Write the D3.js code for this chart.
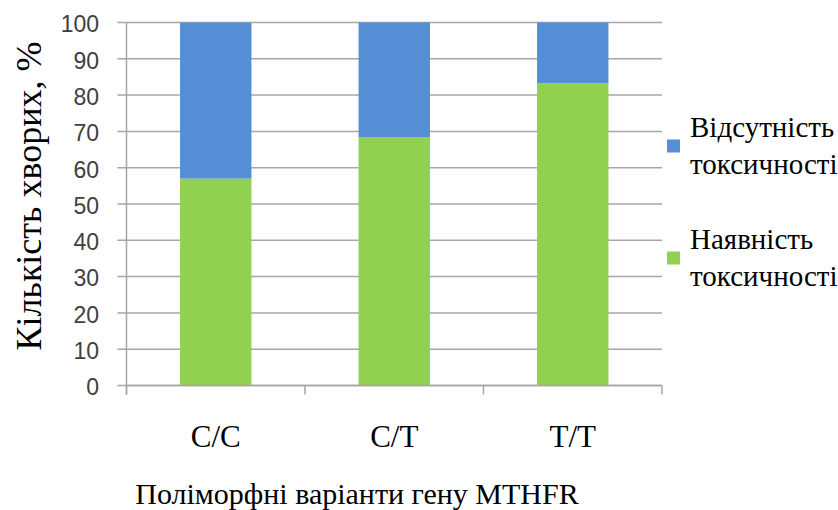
<!DOCTYPE html>
<html>
<head>
<meta charset="utf-8">
<script src="https://cdn.jsdelivr.net/npm/d3@7/dist/d3.min.js"></script>
</head>
<body style="margin:0">
<svg id="chart" width="838" height="510"></svg>
<script>
// Genotype categories and the share of patients (%) for each outcome
const genotypes = ["C/C", "C/T", "T/T"];
const toxicityPresent = [57, 68.4, 83.3];
const toxicityAbsent = [43, 31.6, 16.7];
const seriesNames = ["Наявність токсичності", "Відсутність токсичності"];
const yTicks = [0, 10, 20, 30, 40, 50, 60, 70, 80, 90, 100];
const yTitle = "Кількість хворих, %";
const xTitle = "Поліморфні варіанти гену MTHFR";

const colors = { present: "#92D050", absent: "#558ED5" };
const serif = '"Liberation Serif"';
const sans = '"Liberation Sans"';

const svg = d3.select("#chart");
const plotLeft = 126.5, plotRight = 662, plotTop = 22.5, plotBottom = 385.5;

const x = d3.scaleBand().domain(genotypes).range([plotLeft, plotRight])
  .paddingInner(0.6).paddingOuter(0.3);
const y = d3.scaleLinear().domain([0, 100]).range([plotBottom, plotTop]);

// horizontal gridlines with short ticks to the left of the axis
svg.append("g").selectAll("line").data(yTicks).join("line")
  .attr("x1", plotLeft - 9).attr("x2", plotRight)
  .attr("y1", d => y(d)).attr("y2", d => y(d))
  .attr("stroke", "#a6a6a6").attr("stroke-width", 1.5);

// y tick labels
svg.append("g").selectAll("text").data(yTicks).join("text")
  .attr("x", 99).attr("y", d => y(d))
  .attr("dy", "0.43em")
  .attr("text-anchor", "end")
  .style("font-family", sans).style("font-size", "23px")
  .attr("fill", "#404040")
  .text(d => d);

// stacked bars: toxicity present at the bottom, absent on top
const stackData = genotypes.map((g, i) => ({ g, present: toxicityPresent[i], absent: toxicityAbsent[i] }));
const stack = d3.stack().keys(["present", "absent"])(stackData);
svg.append("g").selectAll("g").data(stack).join("g")
  .attr("fill", d => colors[d.key])
  .selectAll("rect").data(d => d).join("rect")
  .attr("x", d => x(d.data.g))
  .attr("width", x.bandwidth())
  .attr("y", d => y(d[1]))
  .attr("height", d => y(d[0]) - y(d[1]));

// axes lines
svg.append("line").attr("x1", plotLeft).attr("x2", plotLeft)
  .attr("y1", plotTop).attr("y2", plotBottom + 9)
  .attr("stroke", "#a6a6a6").attr("stroke-width", 1.5);
svg.append("line").attr("x1", plotLeft).attr("x2", plotRight)
  .attr("y1", plotBottom).attr("y2", plotBottom)
  .attr("stroke", "#a6a6a6").attr("stroke-width", 1.5);

// category boundary ticks on the x axis
const boundaries = d3.range(genotypes.length + 1).map(i => plotLeft + i * x.step());
svg.append("g").selectAll("line").data(boundaries).join("line")
  .attr("x1", d => d).attr("x2", d => d)
  .attr("y1", plotBottom).attr("y2", plotBottom + 9)
  .attr("stroke", "#a6a6a6").attr("stroke-width", 1.5);

// category labels
svg.append("g").selectAll("text").data(genotypes).join("text")
  .attr("x", d => x(d) + x.bandwidth() / 2)
  .attr("y", 447)
  .attr("text-anchor", "middle")
  .style("font-family", serif).style("font-size", "31px")
  .attr("fill", "#000")
  .text(d => d);

// axis titles
svg.append("text")
  .attr("transform", "translate(41,196) rotate(-90)")
  .attr("text-anchor", "middle")
  .style("font-family", serif).style("font-size", "36px")
  .attr("fill", "#000")
  .text(yTitle);

svg.append("text")
  .attr("x", 357).attr("y", 504)
  .attr("text-anchor", "middle")
  .style("font-family", serif).style("font-size", "30px")
  .attr("fill", "#000")
  .text(xTitle);

// legend
const legendItems = [
  { name: seriesNames[1], color: colors.absent, cy: 146 },
  { name: seriesNames[0], color: colors.present, cy: 258 }
];
const lg = svg.append("g").selectAll("g").data(legendItems).join("g");
lg.append("rect")
  .attr("x", 667).attr("y", d => d.cy - 6.5)
  .attr("width", 13).attr("height", 13)
  .attr("fill", d => d.color);
lg.append("text")
  .style("font-family", serif).style("font-size", "29px")
  .attr("fill", "#000")
  .selectAll("tspan").data(d => d.name.split(" ").map((w, i) => ({ w, i, cy: d.cy })))
  .join("tspan")
  .attr("x", 690)
  .attr("y", t => t.cy - 9 + t.i * 37)
  .text(t => t.w);
</script>
</body>
</html>
